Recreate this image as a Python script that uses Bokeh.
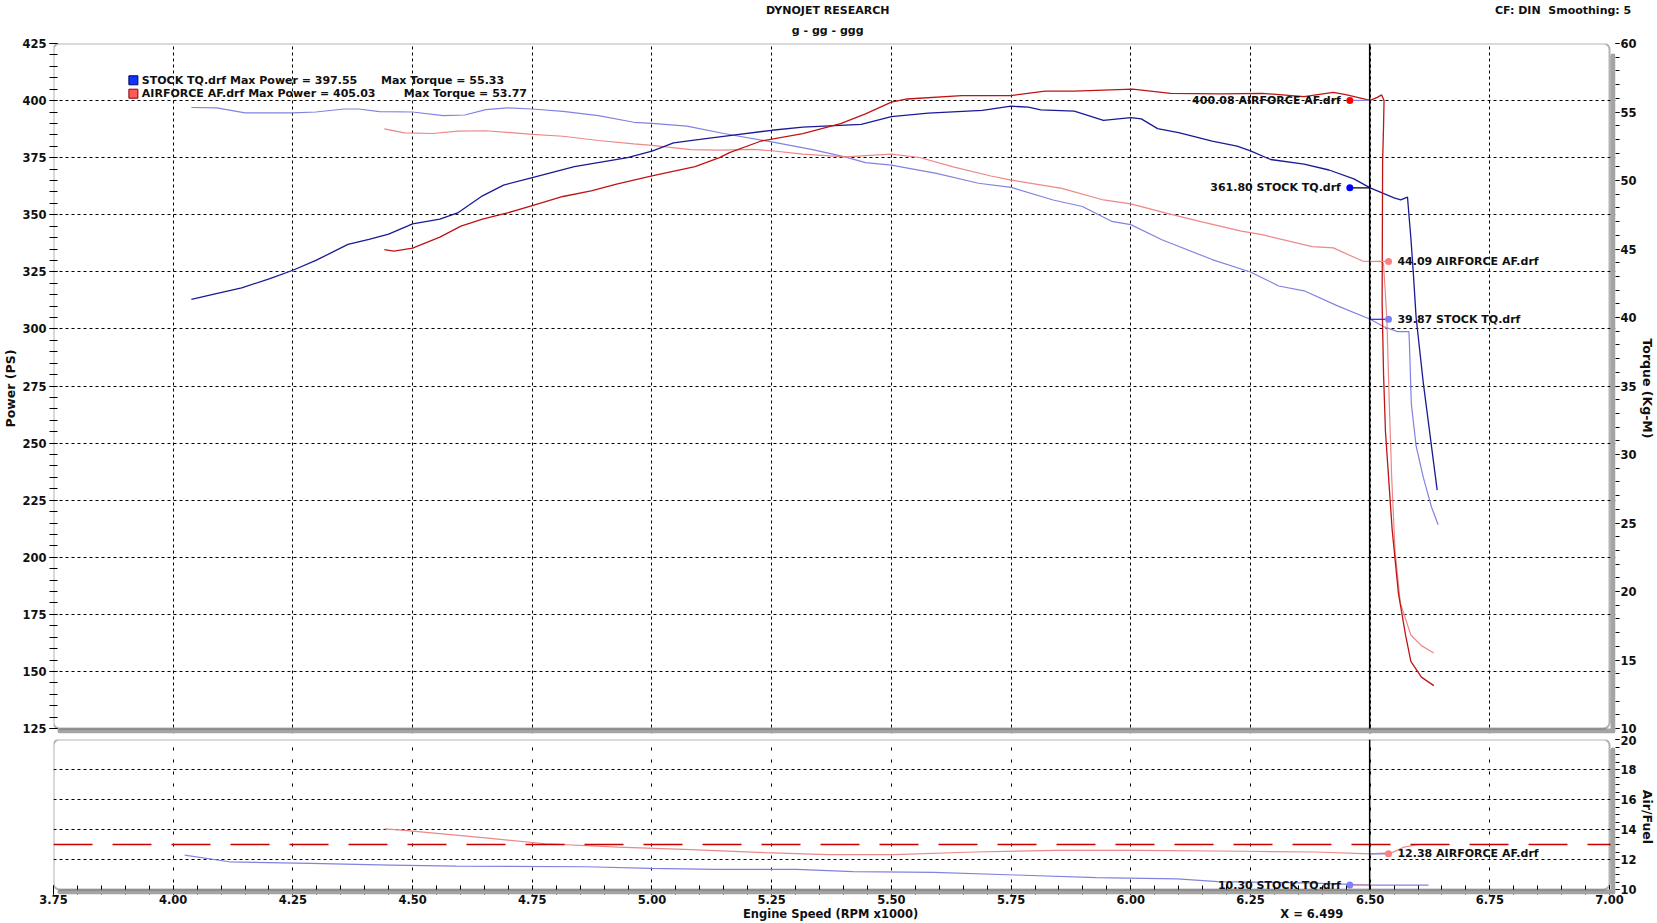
from bokeh.plotting import figure
from bokeh.models import (Range1d, LinearAxis, FixedTicker, Grid, Span, BoxAnnotation,
                          NumeralTickFormatter)
from bokeh.layouts import column
from bokeh.embed import file_html
from bokeh.resources import INLINE
from bokeh.core.properties import value

# ---------------- data ----------------
run_names = ["STOCK TQ.drf", "AIRFORCE AF.drf"]
max_power = [397.55, 405.03]
max_torque = [55.33, 53.77]

stock_pw_rpm = [4.038, 4.090, 4.143, 4.202, 4.250, 4.298, 4.365, 4.409, 4.450, 4.500, 4.557, 4.594,
                4.646, 4.690, 4.750, 4.838, 4.949, 5.000, 5.045, 5.100, 5.162, 5.250, 5.315, 5.437,
                5.500, 5.577, 5.690, 5.750, 5.786, 5.812, 5.882, 5.943, 6.000, 6.022, 6.056, 6.100,
                6.170, 6.222, 6.250, 6.292, 6.362, 6.414, 6.466, 6.500, 6.550, 6.564, 6.578, 6.581,
                6.585, 6.590, 6.596, 6.611, 6.628, 6.640]
stock_pw = [312.9, 315.5, 318.0, 322.0, 325.7, 330.0, 337.0, 339.2, 341.5, 346.0, 348.1, 350.8,
            358.3, 363.0, 366.3, 371.1, 375.0, 377.9, 381.5, 383.0, 384.7, 387.0, 388.4, 389.6,
            393.0, 394.5, 395.7, 397.55, 397.1, 395.9, 395.4, 391.3, 392.5, 392.0, 387.7, 386.0,
            382.2, 380.1, 378.0, 374.2, 372.2, 369.6, 365.7, 361.8, 357.4, 356.5, 357.7, 350.0,
            340.0, 325.0, 305.0, 276.4, 248.8, 229.4]

af_pw_rpm = [4.441, 4.461, 4.500, 4.557, 4.601, 4.646, 4.698, 4.750, 4.814, 4.873, 4.926, 5.000,
             5.090, 5.141, 5.162, 5.228, 5.315, 5.394, 5.446, 5.500, 5.533, 5.647, 5.750, 5.821,
             5.882, 6.004, 6.083, 6.187, 6.274, 6.362, 6.423, 6.449, 6.500, 6.515, 6.524, 6.529,
             6.528, 6.526, 6.525, 6.528, 6.532, 6.537, 6.546, 6.559, 6.574, 6.585, 6.607, 6.633]
af_pw = [334.7, 334.1, 335.4, 340.2, 345.0, 348.1, 350.8, 354.0, 358.0, 360.5, 363.4, 367.0,
         371.1, 375.0, 377.2, 382.3, 385.5, 389.9, 394.2, 399.3, 400.7, 402.2, 402.2, 404.1,
         404.1, 405.03, 403.2, 402.9, 403.2, 401.7, 403.6, 402.6, 400.08, 401.4, 402.5, 400.0,
         389.0, 373.0, 311.0, 280.0, 255.0, 239.6, 212.0, 184.3, 165.9, 154.4, 147.5, 143.8]

stock_tq_rpm = [4.038, 4.091, 4.150, 4.250, 4.298, 4.357, 4.387, 4.431, 4.500, 4.564, 4.609, 4.653,
                4.698, 4.750, 4.814, 4.888, 4.962, 5.000, 5.073, 5.150, 5.250, 5.333, 5.403, 5.446,
                5.500, 5.594, 5.682, 5.750, 5.838, 5.899, 5.960, 6.000, 6.065, 6.170, 6.250, 6.309,
                6.362, 6.432, 6.500, 6.529, 6.557, 6.581, 6.582, 6.586, 6.596, 6.611, 6.628, 6.642]
stock_tq = [55.33, 55.30, 54.93, 54.93, 55.00, 55.22, 55.22, 55.03, 55.00, 54.73, 54.78, 55.17,
            55.30, 55.22, 55.05, 54.73, 54.25, 54.17, 53.97, 53.43, 52.82, 52.27, 51.73, 51.30,
            51.12, 50.52, 49.80, 49.50, 48.58, 48.10, 47.02, 46.78, 45.68, 44.23, 43.32, 42.30,
            41.95, 40.85, 39.87, 39.33, 38.97, 38.97, 38.13, 33.70, 30.63, 28.33, 26.18, 24.88]

af_tq_rpm = [4.441, 4.483, 4.542, 4.594, 4.653, 4.750, 4.814, 4.888, 4.962, 5.000, 5.081, 5.141,
             5.211, 5.250, 5.315, 5.403, 5.500, 5.559, 5.629, 5.708, 5.750, 5.856, 5.943, 6.000,
             6.074, 6.144, 6.231, 6.274, 6.379, 6.423, 6.484, 6.500, 6.522, 6.528, 6.535, 6.540,
             6.545, 6.552, 6.563, 6.585, 6.607, 6.633]
af_tq = [53.77, 53.48, 53.43, 53.60, 53.63, 53.37, 53.23, 52.92, 52.68, 52.57, 52.25, 52.22,
         52.27, 52.17, 51.92, 51.73, 51.92, 51.68, 51.00, 50.33, 50.03, 49.43, 48.58, 48.30,
         47.62, 47.02, 46.30, 46.05, 45.17, 45.08, 44.12, 44.09, 44.10, 43.92, 39.83, 33.67,
         28.33, 23.00, 19.17, 16.83, 16.05, 15.52]

stock_afr_rpm = [4.024, 4.117, 4.286, 4.455, 4.591, 4.862, 4.997, 5.132, 5.302, 5.420, 5.589,
                 5.759, 5.928, 6.097, 6.182, 6.385, 6.500, 6.622]
stock_afr = [12.29, 11.85, 11.74, 11.63, 11.56, 11.52, 11.41, 11.35, 11.35, 11.19, 11.15,
             10.97, 10.79, 10.71, 10.53, 10.43, 10.30, 10.30]

af_afr_rpm = [4.442, 4.489, 4.658, 4.777, 4.929, 5.082, 5.234, 5.369, 5.505, 5.674, 5.843,
              6.013, 6.233, 6.385, 6.500, 6.546, 6.571, 6.600]
af_afr = [14.04, 13.93, 13.42, 13.05, 12.83, 12.66, 12.46, 12.33, 12.33, 12.50, 12.61,
          12.61, 12.55, 12.50, 12.38, 12.46, 12.83, 13.00]

cursor_rpm = 6.499
cursor_power = [400.08, 361.80]     # AIRFORCE, STOCK
cursor_torque = [44.09, 39.87]      # AIRFORCE, STOCK
cursor_afr = [12.38, 10.30]         # AIRFORCE, STOCK
target_afr = 13.0

title_text = "DYNOJET RESEARCH"
subtitle_text = "g - gg - ggg"
corner_text = "CF: DIN\u00a0\u00a0Smoothing: 5"
x_label = "Engine Speed (RPM x1000)"

power_ticks = list(range(125, 426, 25))
power_minor = list(range(125, 426, 5))
power_grid = list(range(150, 425, 25))
torque_ticks = list(range(10, 61, 5))
torque_minor = list(range(10, 61, 1))
afr_ticks = list(range(10, 21, 2))
afr_minor = [10 + 0.5 * i for i in range(21)]
afr_grid = [12, 14, 16, 18]
rpm_ticks = [round(3.75 + 0.25 * i, 2) for i in range(14)]
rpm_minor = [round(3.75 + 0.05 * i, 2) for i in range(66)]
rpm_grid = rpm_ticks[1:-1]

# ---------------- layout (page pixels; page margin is 0) ----------------
FONT = "DejaVu Sans"
TICK_FS = "11.5px"
W = 1657
FL, FR_PANEL, FR_FRAME = 48, 1616, 1622
X0, X1 = 3.75, 7.00
PXR = (FR_PANEL - FL) / (X1 - X0)
XEND = X1 + (FR_FRAME - FR_PANEL) / PXR

# top figure
T_TOP, T_PANEL_BOT, T_FRAME_BOT = 39, 728, 733
H1 = 735
P0, P1 = 125, 425
T0, T1 = 10, 60
PPS = (T_PANEL_BOT - T_TOP) / (P1 - P0)          # px per PS
PTQ = (T_PANEL_BOT - T_TOP) / (T1 - T0)          # px per kg-m

# bottom figure
B_TOP, B_PANEL_BOT, B_FRAME_BOT = 739, 890, 895
A0, A1 = 10, 20
PAF = (B_PANEL_BOT - B_TOP) / (A1 - A0)
H2 = 923 - H1


def xd(px):
    return X0 + (px - FL) / PXR


def yp(py):
    return P1 - (py - T_TOP) / PPS


def ya(py):
    return A1 - (py - B_TOP) / PAF


CX = FL + (cursor_rpm - X0) * PXR

C_STOCK_PW = "#1a1a96"
C_AF_PW = "#c01414"
C_STOCK_TQ = "#8282e0"
C_AF_TQ = "#ec8888"
SHADOW = "#a4a4a4"
TXTC = "#101010"

TXT = dict(text_font=value(FONT), text_font_style="bold", text_font_size="11px",
           text_color=TXTC, text_baseline="middle")


def style_axis(ax, size=TICK_FS, label_size="12.5px"):
    ax.axis_line_color = None
    ax.major_tick_line_color = "black"
    ax.minor_tick_line_color = "black"
    ax.major_label_text_font = FONT
    ax.major_label_text_font_style = "bold"
    ax.major_label_text_font_size = size
    ax.major_label_text_color = TXTC
    ax.axis_label_text_font = FONT
    ax.axis_label_text_font_style = "bold"
    ax.axis_label_text_font_size = label_size
    ax.axis_label_text_color = TXTC


def text_axis(ticks, labels, standoff, size="11px"):
    ax = LinearAxis(ticker=FixedTicker(ticks=ticks, minor_ticks=[]),
                    major_label_overrides=dict(zip(ticks, labels)))
    style_axis(ax, size=size)
    ax.major_tick_in = ax.major_tick_out = 0
    ax.minor_tick_in = ax.minor_tick_out = 0
    ax.major_tick_line_color = None
    ax.major_label_standoff = standoff
    return ax


def panel_deco(p, top, bottom, shadow_top, frame_bottom):
    # grey drop shadow (right and bottom) and rounded black frame of the panel
    p.add_layout(BoxAnnotation(left=X1 + 1.0 / PXR, right=XEND, top=shadow_top, bottom=frame_bottom,
                               fill_color=SHADOW, fill_alpha=1, line_color=None, border_radius=3))
    p.add_layout(BoxAnnotation(left=xd(FL + 4), right=XEND, top=bottom, bottom=frame_bottom,
                               fill_color=SHADOW, fill_alpha=1, line_color=None, border_radius=3))
    p.add_layout(BoxAnnotation(left=X0, right=X1, top=top, bottom=bottom, fill_alpha=0,
                               line_color="black", line_width=2, border_radius=6))


x_range = Range1d(X0, XEND)

# ---------------- top figure: power / torque ----------------
p1 = figure(width=W, height=H1, x_range=x_range,
            y_range=Range1d(P0 - (T_FRAME_BOT - T_PANEL_BOT) / PPS, P1),
            output_backend="svg", toolbar_location=None,
            x_axis_location=None, y_axis_location=None,
            min_border_left=FL, min_border_right=W - FR_FRAME, min_border_top=T_TOP,
            min_border_bottom=H1 - T_FRAME_BOT, outline_line_color=None,
            background_fill_color="white", border_fill_color="white")
p1.grid.visible = False
p1.extra_y_ranges = {"tq": Range1d(T0 - (T_FRAME_BOT - T_PANEL_BOT) / PTQ, T1)}

axl = LinearAxis(ticker=FixedTicker(ticks=power_ticks, minor_ticks=power_minor),
                 axis_label="Power (PS)")
style_axis(axl)
axl.major_tick_in, axl.major_tick_out = 4, 4
axl.minor_tick_in, axl.minor_tick_out = 4, 4
axl.major_label_standoff = 3
axl.axis_label_standoff = 1
p1.add_layout(axl, "left")

axr = LinearAxis(y_range_name="tq", ticker=FixedTicker(ticks=torque_ticks, minor_ticks=torque_minor),
                 axis_label="Torque (Kg-M)")
style_axis(axr)
axr.major_tick_in, axr.major_tick_out = 0, 4
axr.minor_tick_in, axr.minor_tick_out = 0, 4
axr.major_label_standoff = 1
axr.axis_label_standoff = 0
p1.add_layout(axr, "right")

# title rows: centre title / corner note on the top row, subtitle below it
c_title = round(xd(828), 3)
c_corner = round(xd(1569), 3)
p1.add_layout(text_axis([c_title], [subtitle_text], 7), "above")
p1.add_layout(text_axis([c_title, c_corner], [title_text, corner_text], 4), "above")

p1.add_layout(Grid(dimension=0, ticker=FixedTicker(ticks=rpm_grid), grid_line_color="black",
                   grid_line_dash="3 3", grid_line_width=1))
p1.add_layout(Grid(dimension=1, ticker=FixedTicker(ticks=power_grid), grid_line_color="black",
                   grid_line_dash="3 3", grid_line_width=1))

p1.line(stock_tq_rpm, stock_tq, y_range_name="tq", line_color=C_STOCK_TQ, line_width=1.2)
p1.line(af_tq_rpm, af_tq, y_range_name="tq", line_color=C_AF_TQ, line_width=1.2)
p1.line(stock_pw_rpm, stock_pw, line_color=C_STOCK_PW, line_width=1.3)
p1.line(af_pw_rpm, af_pw, line_color=C_AF_PW, line_width=1.3)

p1.add_layout(Span(location=cursor_rpm, dimension="height", line_color="black", line_width=1.5))

# cursor readouts
xl_dot, xl_txt = xd(CX - 20), xd(CX - 29)
xr_dot, xr_txt = xd(CX + 19), xd(CX + 28)
p1.segment([cursor_rpm] * 2, cursor_power, [xl_dot] * 2, cursor_power,
           line_color=[C_STOCK_TQ, "black"], line_width=1.2)
p1.scatter([xl_dot] * 2, cursor_power, size=7, marker="circle",
           fill_color=["#ff0000", "#0000ff"], line_color=None)
p1.text([xl_txt] * 2, cursor_power,
        text=[f"{cursor_power[0]:.2f} {run_names[1]}", f"{cursor_power[1]:.2f} {run_names[0]}"],
        text_align="right", **TXT)
p1.segment([cursor_rpm] * 2, cursor_torque, [xr_dot] * 2, cursor_torque, y_range_name="tq",
           line_color=[C_AF_TQ, "#2020ff"], line_width=1.2)
p1.scatter([xr_dot] * 2, cursor_torque, y_range_name="tq", size=7, marker="circle",
           fill_color=["#ff8080", "#8080ff"], line_color=None)
p1.text([xr_txt] * 2, cursor_torque, y_range_name="tq",
        text=[f"{cursor_torque[0]:.2f} {run_names[1]}", f"{cursor_torque[1]:.2f} {run_names[0]}"],
        text_align="left", **TXT)

# legend block
p1.scatter([xd(128.5)], [yp(76)], marker="square", size=9, fill_color="#1034ff", line_color="#00005a")
p1.scatter([xd(128.5)], [yp(89.5)], marker="square", size=9, fill_color="#ff5a5a", line_color="#8a0000")
p1.text([xd(137), xd(137)], [yp(76), yp(89.5)],
        text=[f"{run_names[0]} Max Power = {max_power[0]:.2f}",
              f"{run_names[1]} Max Power = {max_power[1]:.2f}"], text_align="left", **TXT)
p1.text([xd(378), xd(401)], [yp(76), yp(89.5)],
        text=[f"Max Torque = {max_torque[0]:.2f}", f"Max Torque = {max_torque[1]:.2f}"],
        text_align="left", **TXT)

panel_deco(p1, P1, P0, yp(T_TOP + 10), yp(T_FRAME_BOT))

# ---------------- bottom figure: air / fuel ----------------
p2 = figure(width=W, height=H2, x_range=x_range,
            y_range=Range1d(A0 - (B_FRAME_BOT - B_PANEL_BOT) / PAF, A1),
            output_backend="svg", toolbar_location=None,
            x_axis_location=None, y_axis_location=None,
            min_border_left=FL, min_border_right=W - FR_FRAME, min_border_top=B_TOP - H1,
            min_border_bottom=923 - B_FRAME_BOT, outline_line_color=None,
            background_fill_color="white", border_fill_color="white")
p2.grid.visible = False

axb = LinearAxis(ticker=FixedTicker(ticks=rpm_ticks, minor_ticks=rpm_minor),
                 formatter=NumeralTickFormatter(format="0.00"))
style_axis(axb)
axb.major_tick_in, axb.major_tick_out = 9, 0
axb.minor_tick_in, axb.minor_tick_out = 9, 0
axb.major_label_standoff = 0
p2.add_layout(axb, "below")

c_xlabel = round(xd(831), 3)
c_xval = round(xd(1316), 3)
p2.add_layout(text_axis([c_xlabel, c_xval], [x_label, f"X = {cursor_rpm:.3f}"], 0, size="11.5px"),
              "below")

axr2 = LinearAxis(ticker=FixedTicker(ticks=afr_ticks, minor_ticks=afr_minor), axis_label="Air/Fuel")
style_axis(axr2)
axr2.major_tick_in, axr2.major_tick_out = 0, 4
axr2.minor_tick_in, axr2.minor_tick_out = 0, 4
axr2.major_label_standoff = 1
axr2.axis_label_standoff = 0
p2.add_layout(axr2, "right")

p2.add_layout(Grid(dimension=0, ticker=FixedTicker(ticks=rpm_grid), grid_line_color="black",
                   grid_line_dash="3 9", grid_line_width=1))
p2.add_layout(Grid(dimension=1, ticker=FixedTicker(ticks=afr_grid), grid_line_color="black",
                   grid_line_dash="3 3", grid_line_width=1))

p2.add_layout(Span(location=target_afr, dimension="width", line_color="#c80000", line_width=1.5,
                   line_dash="39 20"))
p2.line(stock_afr_rpm, stock_afr, line_color=C_STOCK_TQ, line_width=1.2)
p2.line(af_afr_rpm, af_afr, line_color=C_AF_TQ, line_width=1.2)
p2.add_layout(Span(location=cursor_rpm, dimension="height", line_color="black", line_width=1.5))

p2.segment([cursor_rpm], [cursor_afr[0]], [xr_dot], [cursor_afr[0]], line_color=C_STOCK_TQ, line_width=1.2)
p2.segment([cursor_rpm], [cursor_afr[1]], [xl_dot], [cursor_afr[1]], line_color=C_AF_TQ, line_width=1.2)
p2.scatter([xr_dot, xl_dot], cursor_afr, size=7, marker="circle",
           fill_color=["#ff8080", "#8080ff"], line_color=None)
p2.text([xr_txt], [cursor_afr[0]], text=[f"{cursor_afr[0]:.2f} {run_names[1]}"],
        text_align="left", **TXT)
p2.text([xl_txt], [cursor_afr[1]], text=[f"{cursor_afr[1]:.2f} {run_names[0]}"],
        text_align="right", **TXT)

panel_deco(p2, A1, A0, ya(B_TOP + 8), ya(B_FRAME_BOT))

layout = column(p1, p2)
open("out.html", "w").write(file_html(layout, INLINE))
